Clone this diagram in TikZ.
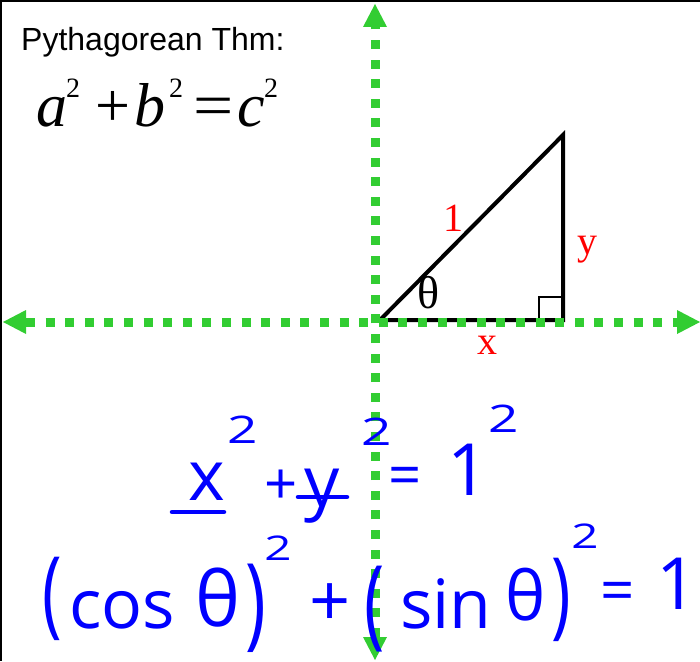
\documentclass[tikz,border=0pt]{standalone}
\usepackage{fontspec}
\setmainfont{Liberation Serif}
\newfontfamily\arialfont{Liberation Sans}
\newfontfamily\handfont{Open Sans}
\usetikzlibrary{arrows.meta}
\definecolor{axisgreen}{RGB}{50,205,50}
\newcommand{\pxsize}[1]{\fontsize{#1}{#1}\selectfont}
\newcommand{\tallparen}[1]{\scalebox{1}[1.45]{#1}}

\begin{document}
\begin{tikzpicture}[x=1pt, y=-1pt,
  axis/.style={line width=9pt, draw=axisgreen, dash pattern=on 9pt off 10.6pt,
    {Triangle[length=23pt,width=24pt,line width=0pt]}-{Triangle[length=23pt,width=24pt,line width=0pt]}},
  leg/.style={line width=4pt, line join=miter},
  rightmark/.style={line width=1.2pt},
  eqtok/.style={anchor=base west, inner sep=0pt, font=\pxsize{#1}},
  lbl/.style={red, inner sep=0pt, font=\pxsize{40}},
  anglbl/.style={inner sep=0pt, font=\pxsize{46}},
  hand/.style={blue, inner sep=0pt, font=\handfont\pxsize{#1}},
  handline/.style={blue, line width=4.5pt, line cap=round}]

  \useasboundingbox (0,0) rectangle (700,661);
  % frame on the top and left edges
  \draw[line width=4pt] (0,661) -- (0,0) -- (700,0);

  % Title and formula
  \node[anchor=base west, inner sep=0pt, font=\arialfont\pxsize{32}] (thm) at (21,51) {Pythagorean Thm:};
  \node[eqtok=62] (ea) at (36,126) {\textit{a}};
  \node[eqtok=28] (ea2) at (66,97) {2};
  \node[eqtok=62] (eplus) at (95,126) {+};
  \node[eqtok=62] (eb) at (134,126) {\textit{b}};
  \node[eqtok=28] (eb2) at (169,97) {2};
  \node[eqtok=62] (eeq) at (193,126) {\scalebox{1.15}[1]{=}};
  \node[eqtok=62] (ec) at (237,126) {\textit{c}};
  \node[eqtok=28] (ec2) at (264,97) {2};

  % Triangle
  \coordinate (O) at (380,320);
  \coordinate (R) at (563,320);
  \coordinate (T) at (563,135);
  \draw[leg] (O) -- (R) -- (T) -- cycle;
  \draw[rightmark] (R) rectangle +(-24,-23);

  % Side labels
  \node[lbl] (hyp) at (453,218) {1};
  \node[lbl] (ylab) at (587,250) {y};
  \node[lbl] (xlab) at (487,345) {x};
  \node[anglbl] (theta) at (429,293) {θ};

  % Axes
  \coordinate (W) at (3,322);
  \coordinate (E) at (700,322);
  \coordinate (S) at (375,660);
  \coordinate (N) at (375,4);
  \draw[axis] (W) -- (E);
  \draw[axis] (S) -- (N);

  % Handwritten line 1
  \node[hand=70] (hx) at (207,482) {x};
  \node[hand=38] (hx2) at (243,430) {\scalebox{1.4}[1]{2}};
  \node[hand=58] (hplus) at (281,487) {+};
  \node[hand=70] (hy) at (322,496) {y};
  \node[hand=38] (hy2) at (377,432) {\scalebox{1.4}[1]{2}};
  \node[hand=58] (heq) at (405,481) {=};
  \node[hand=72] (hone) at (468,470) {1};
  \node[hand=38] (hone2) at (504,419) {\scalebox{1.4}[1]{2}};
  \draw[handline] (172,512) -- (224,512);
  \draw[handline] (298,497) -- (347,497);

  % Handwritten line 2
  \node[hand=66] (lpa) at (52,599) {\tallparen{(}};
  \node[hand=68] (cos) at (122,610) {cos};
  \node[hand=76] (tha) at (218,598) {θ};
  \node[hand=70] (rpa) at (256,608) {\tallparen{)}};
  \node[hand=34] (sqa) at (278,548) {\scalebox{1.4}[1]{2}};
  \node[hand=72] (plus) at (330,605) {+};
  \node[hand=68] (lpb) at (375,609) {\tallparen{(}};
  \node[hand=68, anchor=base] (sin) at (446,628) {sin};
  \node[hand=68] (thb) at (526,595) {θ};
  \node[hand=66] (rpb) at (561,600) {\tallparen{)}};
  \node[hand=34] (sqb) at (585,536) {\scalebox{1.4}[1]{2}};
  \node[hand=60] (eqb) at (618,597) {=};
  \node[hand=72, anchor=east] (oneb) at (698,584) {1};

\end{tikzpicture}
\end{document}
